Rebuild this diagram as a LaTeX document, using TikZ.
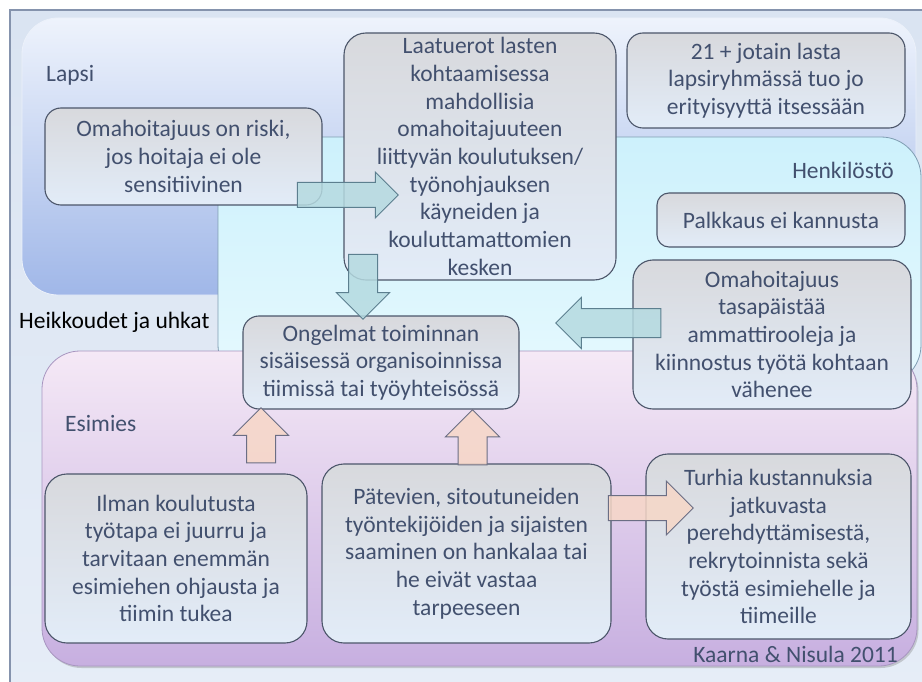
\documentclass[tikz,border=0pt]{standalone}
\usepackage{fontspec}
\setmainfont{Carlito}
\usetikzlibrary{shapes.arrows,shadows}

\definecolor{framefill}{HTML}{DAE4F2}
\definecolor{framefillb}{HTML}{E6EDF7}
\definecolor{frameline}{HTML}{8593AD}
\definecolor{lapsitop}{HTML}{EEF3FC}
\definecolor{lapsibot}{HTML}{A0B7E8}
\definecolor{henktop}{HTML}{CDF1FC}
\definecolor{henkbot}{HTML}{E6F9FE}
\definecolor{henkline}{HTML}{7F9DB2}
\definecolor{esitop}{HTML}{F5E9F6}
\definecolor{esibot}{HTML}{C7AFE0}
\definecolor{esiline}{HTML}{A896C0}
\definecolor{boxtop}{HTML}{D8D9DD}
\definecolor{boxbot}{HTML}{E2ECF8}
\definecolor{boxline}{HTML}{4C566A}
\definecolor{txt}{HTML}{42506E}
\definecolor{arrblue}{HTML}{B5DAE0}
\definecolor{arrblueline}{HTML}{5C7F8F}
\definecolor{arrpeach}{HTML}{F7D7C7}
\definecolor{arrpeachline}{HTML}{6B6E84}

\begin{document}
\begin{tikzpicture}[x=1pt, y=-1pt, every node/.style={font=\fontsize{23.5}{27.7}\selectfont}]
\tikzset{
  tbox/.style={draw=boxline, line width=1.1pt, rounded corners=16pt, top color=boxtop, bottom color=boxbot, text=txt, align=center, inner sep=0pt},
  grouplabel/.style={text=txt, inner sep=0pt},
  barrow/.style={single arrow, draw=arrblueline, fill=arrblue, line width=1pt, inner xsep=0pt, fill opacity=0.85},
  parrow/.style={single arrow, draw=arrpeachline, fill=arrpeach, line width=1pt, inner xsep=0pt, fill opacity=0.85}
}
\useasboundingbox (0,0) rectangle (922,682);
\clip (0,0) rectangle (922,682);

% Frame and groups
\draw[draw=frameline, line width=1.2pt, top color=framefill, bottom color=framefillb] (10,10) rectangle (940,700);
\draw[draw=white!80!lapsibot, line width=0.8pt, rounded corners=36pt, top color=lapsitop, bottom color=lapsibot] (22,18) rectangle (916,295);
\draw[draw=henkline, line width=0.8pt, rounded corners=40pt, top color=henktop, bottom color=henkbot] (218,137) rectangle (921,385);
\draw[draw=esiline, line width=0.8pt, rounded corners=38pt, top color=esitop, bottom color=esibot,
  drop shadow={shadow xshift=1.5pt, shadow yshift=-2pt, opacity=0.35}] (42,351) rectangle (917,666);

\node[grouplabel, anchor=west] (lapsi) at (46,75) {Lapsi};
\node[grouplabel, anchor=east] (henk) at (894,170) {Henkilöstö};
\node[anchor=west, inner sep=0pt] (heikko) at (19,322) {Heikkoudet ja uhkat};
\node[grouplabel, anchor=west] (esimies) at (65,424) {Esimies};
\node[grouplabel, anchor=east] (lahde) at (898,654) {Kaarna \& Nisula 2011};

% Lapsi
\node[tbox, minimum width=277, minimum height=97] (omariski) at (183.5,156.5) {Omahoitajuus on riski,\\jos hoitaja ei ole\\sensitiivinen};
\node[tbox, rounded corners=22pt, minimum width=272, minimum height=247] (laatu) at (480,156.5) {Laatuerot lasten\\kohtaamisessa\\mahdollisia\\omahoitajuuteen\\liittyvän koulutuksen/\\työnohjauksen\\käyneiden ja\\kouluttamattomien\\kesken};
\node[tbox, minimum width=278, minimum height=95] (lapsimaara) at (766,80.5) {21 + jotain lasta\\lapsiryhmässä tuo jo\\erityisyyttä itsessään};

% Henkilosto
\node[tbox, rounded corners=12pt, minimum width=248, minimum height=54] (palkkaus) at (781,220) {Palkkaus ei kannusta};
\node[tbox, rounded corners=20pt, minimum width=278, minimum height=149] (tasapaisto) at (772,334.5) {Omahoitajuus\\tasapäistää\\ammattirooleja ja\\kiinnostus työtä kohtaan\\vähenee};
\node[tbox, minimum width=276, minimum height=93] (ongelmat) at (381,362.5) {Ongelmat toiminnan\\sisäisessä organisoinnissa\\tiimissä tai työyhteisössä};

% Esimies
\node[tbox, rounded corners=22pt, minimum width=262, minimum height=169] (ilman) at (176,558.5) {Ilman koulutusta\\työtapa ei juurru ja\\tarvitaan enemmän\\esimiehen ohjausta ja\\tiimin tukea};
\node[tbox, rounded corners=22pt, minimum width=289, minimum height=179] (patevat) at (466.5,553.5) {Pätevien, sitoutuneiden\\työntekijöiden ja sijaisten\\saaminen on hankalaa tai\\he eivät vastaa\\tarpeeseen};
\node[tbox, rounded corners=22pt, minimum width=265, minimum height=185] (turhia) at (778.5,546.5) {Turhia kustannuksia\\jatkuvasta\\perehdyttämisestä,\\rekrytoinnista sekä\\työstä esimiehelle ja\\tiimeille};

% Block arrows
\node[barrow, minimum height=101, inner ysep=12, single arrow head extend=10.5] (ar_riski) at (341.5,195) {};
\node[barrow, rotate=-90, minimum height=65, inner ysep=14, single arrow head extend=12] (ar_laatu) at (363,279.5) {};
\node[barrow, rotate=180, minimum height=105, inner ysep=14, single arrow head extend=11] (ar_tasa) at (615.5,323) {};
\node[parrow, rotate=90, minimum height=55, inner ysep=14, single arrow head extend=13] (ar_ilman) at (261,442.5) {};
\node[parrow, rotate=90, minimum height=55, inner ysep=14, single arrow head extend=12.5] (ar_patevat) at (472.5,444.5) {};
\node[parrow, minimum height=85, inner ysep=12, single arrow head extend=14.5] (ar_turhia) at (644.5,508) {};

\end{tikzpicture}
\end{document}
